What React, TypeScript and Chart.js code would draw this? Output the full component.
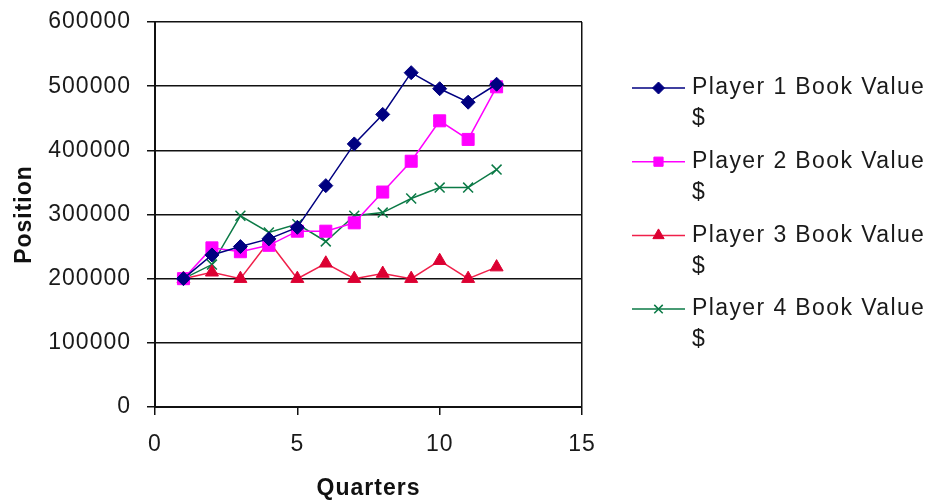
import React, { useEffect, useRef } from 'react';
import { Chart, registerables } from 'chart.js';
import { drawPoint } from 'chart.js/helpers';

Chart.register(...registerables);

const quarters = [1, 2, 3, 4, 5, 6, 7, 8, 9, 10, 11, 12];
const player1 = [200000, 237000, 250000, 262000, 280000, 345000, 410000, 456000, 521000, 496000, 475000, 503000];
const player2 = [200000, 248000, 242000, 252000, 274000, 274000, 287000, 335000, 383000, 446000, 417000, 499000];
const player3 = [200000, 210000, 200000, 258000, 200000, 224000, 200000, 208000, 200000, 228000, 200000, 218000];
const player4 = [200000, 222000, 298000, 272000, 285000, 258000, 298000, 303000, 325000, 342000, 342000, 370000];
const seriesNames = ['Player 1 Book Value $', 'Player 2 Book Value $', 'Player 3 Book Value $', 'Player 4 Book Value $'];
const legendLines = [
  ['Player 1 Book Value', '$'],
  ['Player 2 Book Value', '$'],
  ['Player 3 Book Value', '$'],
  ['Player 4 Book Value', '$'],
];
const yTicks = [0, 100000, 200000, 300000, 400000, 500000, 600000];
const xTicks = [0, 5, 10, 15];

const FONT = '"Liberation Sans", Arial, sans-serif';
const AXIS = '#111111';
const TEXT = '#1a1a1a';

const legendPlugin = {
  id: 'customLegend',
  beforeDraw(chart: any) {
    chart.ctx.letterSpacing = '1px';
  },
  afterDraw(chart: any) {
    const { ctx, chartArea } = chart;
    ctx.save();
    chart.data.datasets.forEach((ds: any, i: number) => {
      const y = chartArea.top + 66 + i * 73.7;
      const x0 = chartArea.right + 50;
      const x1 = chartArea.right + 103;
      ctx.strokeStyle = ds.borderColor;
      ctx.lineWidth = 1.5;
      ctx.beginPath();
      ctx.moveTo(x0, y);
      ctx.lineTo(x1, y);
      ctx.stroke();
      ctx.fillStyle = ds.pointBackgroundColor;
      ctx.strokeStyle = ds.pointBorderColor;
      ctx.lineWidth = ds.pointBorderWidth;
      drawPoint(ctx, { pointStyle: ds.pointStyle, radius: ds.legendRadius, borderWidth: ds.pointBorderWidth, rotation: 0 }, (x0 + x1) / 2, y);
      ctx.fillStyle = TEXT;
      ctx.font = `23px ${FONT}`;
      ctx.letterSpacing = '1.4px';
      ctx.textBaseline = 'middle';
      ctx.textAlign = 'left';
      legendLines[i].forEach((t, j) => ctx.fillText(t, chartArea.right + 110, y + j * 31));
    });
    ctx.restore();
  },
};

export default function App() {
  const ref = useRef<HTMLCanvasElement | null>(null);

  useEffect(() => {
    document.body.style.margin = '0';
    if (!ref.current) return;
    const mk = (vals: number[]) => quarters.map((q, i) => ({ x: q, y: vals[i] }));
    const chart = new Chart(ref.current, {
      type: 'line',
      data: {
        datasets: [
          {
            label: seriesNames[0],
            data: mk(player1),
            borderColor: '#000080',
            borderWidth: 1.5,
            pointStyle: 'rectRot',
            pointRadius: 7,
            pointBackgroundColor: '#000080',
            pointBorderColor: '#000080',
            pointBorderWidth: 1,
            legendRadius: 6,
          } as any,
          {
            label: seriesNames[1],
            data: mk(player2),
            borderColor: '#FF00FF',
            borderWidth: 1.5,
            pointStyle: 'rect',
            pointRadius: 8.5,
            pointBackgroundColor: '#FF00FF',
            pointBorderColor: '#FF00FF',
            pointBorderWidth: 1,
            legendRadius: 6.5,
          } as any,
          {
            label: seriesNames[2],
            data: mk(player3),
            borderColor: '#F0204A',
            borderWidth: 1.5,
            pointStyle: 'triangle',
            pointRadius: 7.5,
            pointBackgroundColor: '#DC0032',
            pointBorderColor: '#DC0032',
            pointBorderWidth: 1,
            legendRadius: 6.5,
          } as any,
          {
            label: seriesNames[3],
            data: mk(player4),
            borderColor: '#0B7A46',
            borderWidth: 1.5,
            pointStyle: 'crossRot',
            pointRadius: 7,
            pointBackgroundColor: '#0B7A46',
            pointBorderColor: '#0B7A46',
            pointBorderWidth: 1.5,
            legendRadius: 6,
          } as any,
        ],
      },
      options: {
        responsive: false,
        animation: false,
        layout: { padding: { left: 0, right: 350, top: 22, bottom: 0 } },
        plugins: { legend: { display: false }, tooltip: { enabled: false } },
        elements: { line: { tension: 0 } },
        scales: {
          x: {
            type: 'linear',
            min: 0,
            max: 15,
            afterBuildTicks: (scale: any) => {
              scale.ticks = xTicks.map((v) => ({ value: v }));
            },
            afterFit: (scale: any) => {
              scale.height = 95;
              scale.paddingLeft = 0;
              scale.paddingRight = 0;
            },
            ticks: { autoSkip: false, maxRotation: 0, padding: 16, color: TEXT, font: { family: FONT, size: 23 } },
            grid: {
              color: (c: any) => (c.tick && c.tick.value === 15 ? AXIS : 'rgba(0,0,0,0)'),
              lineWidth: 1.5,
              tickColor: AXIS,
              tickLength: 8,
              drawTicks: true,
            },
            border: { display: true, color: AXIS, width: 2 },
            title: {
              display: true,
              text: 'Quarters',
              color: '#111',
              font: { family: FONT, size: 23, weight: 'bold' },
              padding: { top: 0, bottom: 0 },
            },
          },
          y: {
            type: 'linear',
            min: 0,
            max: 600000,
            afterBuildTicks: (scale: any) => {
              scale.ticks = yTicks.map((v) => ({ value: v }));
            },
            afterFit: (scale: any) => {
              scale.width = 155;
              scale.paddingTop = 0;
              scale.paddingBottom = 0;
            },
            ticks: { padding: 16, color: TEXT, font: { family: FONT, size: 23 }, callback: (v: any) => String(v) },
            grid: { color: AXIS, lineWidth: 1.5, tickColor: AXIS, tickLength: 8 },
            border: { display: true, color: AXIS, width: 2 },
            title: {
              display: true,
              text: 'Position',
              color: '#111',
              font: { family: FONT, size: 23, weight: 'bold' },
              padding: { top: 11, bottom: 0 },
            },
          },
        },
      } as any,
      plugins: [legendPlugin],
    });
    return () => chart.destroy();
  }, []);

  return <canvas ref={ref} width={932} height={502} style={{ display: 'block' }} />;
}
